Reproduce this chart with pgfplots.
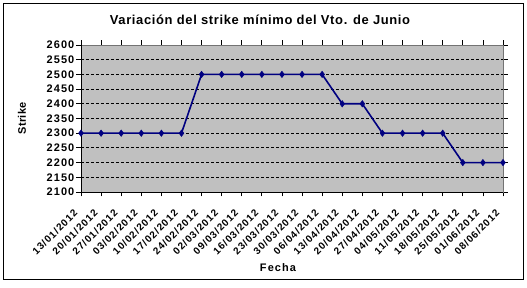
\documentclass[border=0pt]{standalone}
\usepackage{fontspec}
\setmainfont{Liberation Sans}
\usepackage{pgfplots}
\pgfplotsset{compat=1.18}
\usetikzlibrary{calc}
\definecolor{plotgray}{HTML}{C0C0C0}
\definecolor{navyline}{HTML}{000080}
\begin{document}
\begin{tikzpicture}[x=1bp,y=1bp]
\begin{axis}[
  name=ax,
  scale only axis,
  width=422bp, height=147bp,
  xmin=0, xmax=21,
  ymin=2100, ymax=2600,
  ytick distance=50,
  xtick={0,...,21},
  xticklabels={13/01/2012,20/01/2012,27/01/2012,03/02/2012,10/02/2012,17/02/2012,24/02/2012,02/03/2012,09/03/2012,16/03/2012,23/03/2012,30/03/2012,06/04/2012,13/04/2012,20/04/2012,27/04/2012,04/05/2012,11/05/2012,18/05/2012,25/05/2012,01/06/2012,08/06/2012},
  x tick label style={xshift=-8bp, yshift=-10bp, rotate=45, anchor=north east, font=\fontsize{10}{11}\selectfont\bfseries\addfontfeature{LetterSpace=10}, inner sep=1.5bp},
  y tick label style={font=\fontsize{11}{12}\selectfont\bfseries\addfontfeature{LetterSpace=10}, inner sep=2bp},
  /pgf/number format/assume math mode=true,
  /pgf/number format/1000 sep={},
  axis background/.style={fill=plotgray},
  axis line style={draw=gray!90!black},
  tick align=outside,
  major tick length=4.5bp,
  tick style={black, line width=0.8bp},
  ymajorgrids,
  major grid style={black, dashed, line width=0.8bp, dash pattern=on 3bp off 2bp},
  clip=false,
]
\addplot[color=navyline, line width=1.6bp, mark=diamond*, mark size=3.2bp, mark options={fill=navyline, draw=navyline, line width=0.5bp}] coordinates {
(0,2300) (1,2300) (2,2300) (3,2300) (4,2300) (5,2300)
(6,2500) (7,2500) (8,2500) (9,2500) (10,2500) (11,2500) (12,2500)
(13,2400) (14,2400)
(15,2300) (16,2300) (17,2300) (18,2300)
(19,2200) (20,2200) (21,2200)
};
\draw[black, line width=0.9bp] (rel axis cs:0,1) -- (rel axis cs:0,0) -- (rel axis cs:1,0);
\end{axis}
\useasboundingbox ($(ax.south west)+(-81bp,-96bp)$) rectangle ($(ax.north east)+(24bp,45bp)$);
\draw[black, line width=1bp] ($(ax.south west)+(-77bp,-88bp)$) rectangle ($(ax.north east)+(20bp,41bp)$);
\node[font=\fontsize{13}{15}\selectfont\bfseries\addfontfeature{LetterSpace=5}] at ($(ax.north west)+(179bp,25bp)$) {Variación del strike mínimo del Vto. de Junio};
\node[font=\fontsize{11}{13}\selectfont\bfseries\addfontfeature{LetterSpace=10}] at ($(ax.south west)+(197bp,-76bp)$) {Fecha};
\node[font=\fontsize{11}{13}\selectfont\bfseries\addfontfeature{LetterSpace=3}, rotate=90] at ($(ax.south west)!0.5!(ax.north west)+(-59bp,0)$) {Strike};
\end{tikzpicture}
\end{document}
